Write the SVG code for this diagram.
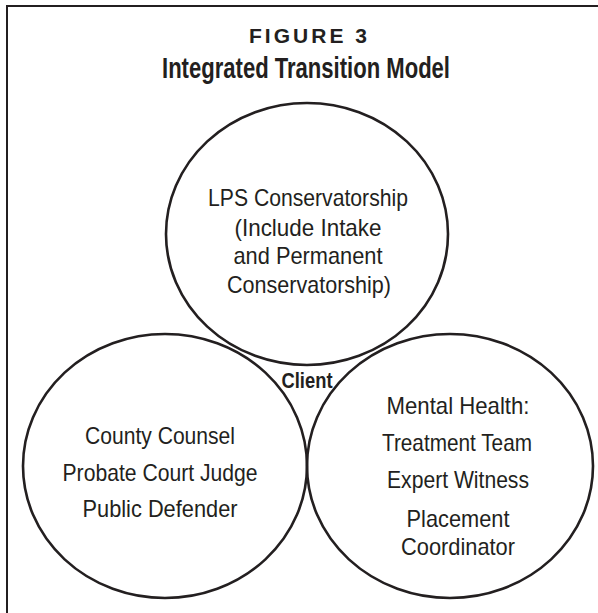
<svg xmlns="http://www.w3.org/2000/svg" width="598" height="613" viewBox="0 0 598 613">
<style>
.frame{fill:none;stroke:#231f20;stroke-width:2}
.c{fill:none;stroke:#231f20;stroke-width:2.6}
.t{font-family:"Liberation Sans",Arial,sans-serif;font-size:24px;fill:#231f20;text-anchor:middle}
.b{font-family:"Liberation Sans",Arial,sans-serif;font-weight:bold;fill:#231f20;text-anchor:middle}
</style>
<rect width="598" height="613" fill="#fff"/>
<path class="frame" d="M7,613 V6 H598"/>
<g id="title">
<text class="b" x="308" y="43" font-size="21" textLength="118" lengthAdjust="spacing">FIGURE 3</text>
<text class="b" x="306" y="78" font-size="30" textLength="288" lengthAdjust="spacingAndGlyphs">Integrated Transition Model</text>
</g>
<g id="lps">
<ellipse class="c" cx="307" cy="234" rx="141" ry="131"/>
<text class="t" x="308" y="206" textLength="200" lengthAdjust="spacingAndGlyphs">LPS Conservatorship</text>
<text class="t" x="308" y="236" textLength="147" lengthAdjust="spacingAndGlyphs">(Include Intake</text>
<text class="t" x="308" y="264" textLength="149" lengthAdjust="spacingAndGlyphs">and Permanent</text>
<text class="t" x="309" y="293" textLength="164" lengthAdjust="spacingAndGlyphs">Conservatorship)</text>
</g>
<g id="legal">
<ellipse class="c" cx="165" cy="466" rx="142" ry="132"/>
<text class="t" x="160" y="444" textLength="150" lengthAdjust="spacingAndGlyphs">County Counsel</text>
<text class="t" x="160" y="481" textLength="195" lengthAdjust="spacingAndGlyphs">Probate Court Judge</text>
<text class="t" x="160" y="517" textLength="155" lengthAdjust="spacingAndGlyphs">Public Defender</text>
</g>
<g id="mental-health">
<ellipse class="c" cx="450" cy="466" rx="143" ry="132"/>
<text class="t" x="458" y="414" textLength="143" lengthAdjust="spacingAndGlyphs">Mental Health:</text>
<text class="t" x="457" y="451" textLength="150" lengthAdjust="spacingAndGlyphs">Treatment Team</text>
<text class="t" x="458" y="488" textLength="142" lengthAdjust="spacingAndGlyphs">Expert Witness</text>
<text class="t" x="458" y="527" textLength="103" lengthAdjust="spacingAndGlyphs">Placement</text>
<text class="t" x="458" y="555" textLength="114" lengthAdjust="spacingAndGlyphs">Coordinator</text>
</g>
<g id="client">
<text class="b" x="307" y="388" font-size="22" textLength="51" lengthAdjust="spacingAndGlyphs">Client</text>
</g>
<g id="connectors"></g>
</svg>
